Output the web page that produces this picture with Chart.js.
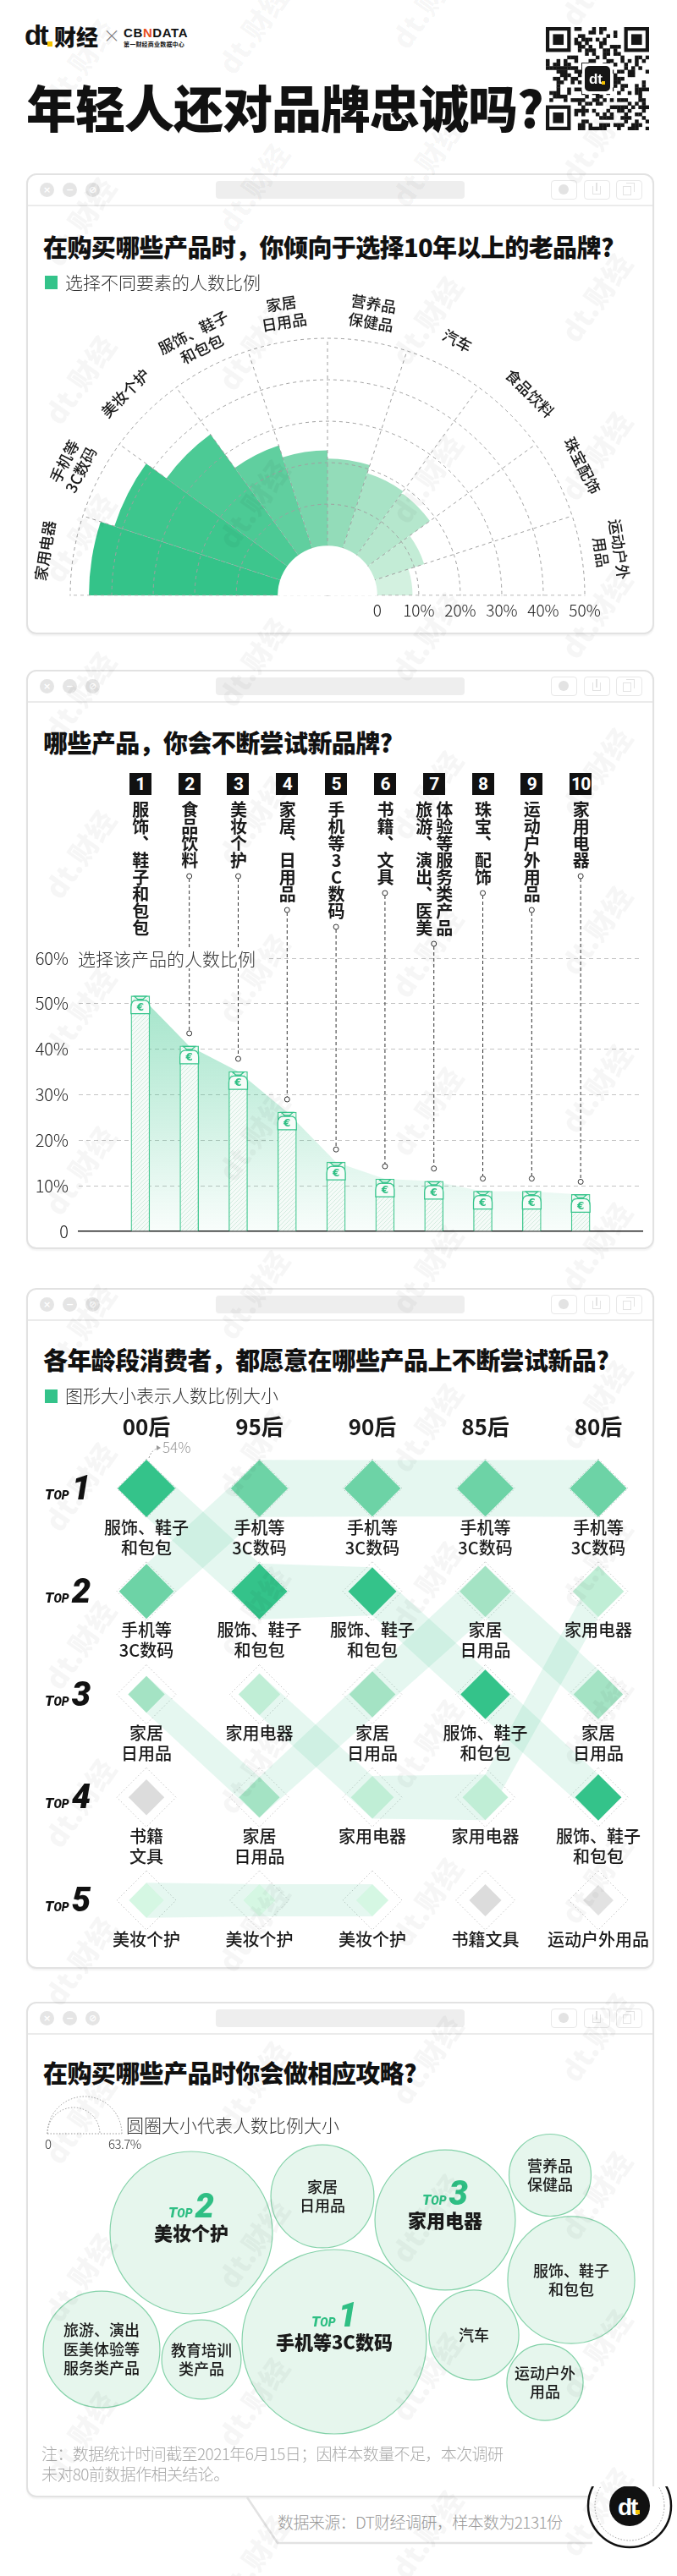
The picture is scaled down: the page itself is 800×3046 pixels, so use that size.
<!DOCTYPE html>
<html lang="zh-CN">
<head>
<meta charset="utf-8">
<title>年轻人还对品牌忠诚吗?</title>
<script src="https://cdn.jsdelivr.net/npm/chart.js@4.4.1/dist/chart.umd.min.js"></script>
<style>
*{box-sizing:border-box}
html,body{margin:0;padding:0}
body{width:800px;height:3046px;position:relative;background:#fff;overflow:hidden;font-family:"Noto Sans CJK SC","Noto Sans",sans-serif;color:#1a1a1a}
.abs{position:absolute;white-space:nowrap}
.card{position:absolute;left:31px;width:742px;border:2px solid #e2e2e2;border-radius:12px;background:#fff;box-shadow:0 2px 2px rgba(0,0,0,0.05)}
.card .sep{position:absolute;left:0;right:0;top:35px;border-top:2px solid #ebebeb}
.card .dot{position:absolute;top:9px;width:17px;height:17px;border-radius:50%;background:#e5e5e5;color:#fff;font:bold 11px/17px "DejaVu Sans",sans-serif;text-align:center}
.card .addr{position:absolute;left:222px;top:7px;width:294px;height:21px;border-radius:4px;background:#eeeeee}
.card .btn{position:absolute;top:6px;width:31px;height:23px;border:1.5px solid #e8e8e8;border-radius:4px}
.h2{position:absolute;left:51px;font-size:29px;font-weight:900;line-height:29px;letter-spacing:-0.6px;white-space:nowrap;color:#111}
.lgsq{position:absolute;left:53px;width:15px;height:16px;background:#34c38a}
.lgt{position:absolute;left:77px;font-size:21px;font-weight:300;line-height:21px;color:#333;white-space:nowrap}
.numbox{position:absolute;top:914px;width:26px;height:26px;background:#111;color:#fff;font:bold 21px/26px Roboto,"Liberation Sans",sans-serif;text-align:center;z-index:6;letter-spacing:-1px}
.vlab{position:absolute;top:947px;writing-mode:vertical-rl;text-orientation:upright;font-size:20px;font-weight:700;line-height:24px;white-space:pre;transform:translateX(-50%);z-index:6;color:#1a1a1a}
.wm{position:absolute;font:900 34px "Noto Sans CJK SC",sans-serif;color:rgba(0,0,0,0.035);transform:rotate(-55deg);transform-origin:center;white-space:nowrap;pointer-events:none;z-index:50}
</style>
</head>
<body>

<!-- header -->
<div class="abs" style="left:29px;top:22px;font:bold 33px/40px 'Liberation Sans',Arial,sans-serif;letter-spacing:-2.5px;color:#111">dt</div>
<div class="abs" style="left:56px;top:49px;width:6px;height:6px;background:#f6c400"></div>
<div class="abs" style="left:64px;top:30px;font-size:26px;font-weight:900;line-height:26px;color:#111">财经</div>
<div class="abs" style="left:122px;top:32px;font-size:20px;font-weight:300;line-height:20px;color:#777">×</div>
<div class="abs" style="left:146px;top:31px;font:bold 15px/16px 'Liberation Sans',Arial,sans-serif;letter-spacing:0.6px;color:#111">CB<span style="color:#e8501e">N</span>DATA</div>
<div class="abs" style="left:146px;top:48px;font-size:7px;font-weight:700;line-height:8px;color:#111;letter-spacing:0.2px">第一财经商业数据中心</div>
<div class="abs" style="left:31px;top:96px;font-size:59px;font-weight:900;line-height:59px;letter-spacing:-1px;color:#111">年轻人还对品牌忠诚吗?</div>
<canvas id="qr" width="122" height="122" style="position:absolute;left:645px;top:32px"></canvas>

<!-- card 1 -->
<div class="h2" style="top:277px;z-index:3">在购买哪些产品时，你倾向于选择10年以上的老品牌?</div>
<div class="lgsq" style="top:326px;z-index:3"></div>
<div class="lgt" style="top:323px;z-index:3">选择不同要素的人数比例</div>
<div style="position:absolute;left:7px;top:324px;width:760px;height:420px;overflow:hidden;z-index:2">
  <canvas id="polar" width="760" height="760"></canvas>
</div>

<!-- card 2 -->
<div class="h2" style="top:863px;z-index:3">哪些产品，你会不断尝试新品牌?</div>
<div style="position:absolute;left:0;top:1000px;width:800px;height:480px;z-index:2">
  <canvas id="trial" width="800" height="480"></canvas>
</div>
<div class="abs" style="left:88px;top:1121px;font-size:21px;font-weight:300;line-height:24px;color:#333;background:#fff;padding:0 12px 0 4px;z-index:4">选择该产品的人数比例</div>

<!-- card 3 -->
<div class="h2" style="top:1593px;z-index:3">各年龄段消费者，都愿意在哪些产品上不断尝试新品?</div>
<div class="lgsq" style="top:1643px;z-index:3"></div>
<div class="lgt" style="top:1639px;z-index:3">图形大小表示人数比例大小</div>
<div style="position:absolute;left:0;top:1650px;width:800px;height:680px;z-index:2">
  <canvas id="bump" width="800" height="680"></canvas>
</div>

<!-- card 4 -->
<div class="h2" style="top:2436px;z-index:3">在购买哪些产品时你会做相应攻略?</div>
<svg style="position:absolute;left:0;top:2470px;z-index:3" width="200" height="80">
  <path d="M56,53 A44,44 0 0 1 144,53" fill="none" stroke="#999" stroke-width="1" stroke-dasharray="1.5 2"/>
  <path d="M56,53 A31,31 0 0 1 118,53" fill="none" stroke="#999" stroke-width="1" stroke-dasharray="1.5 2"/>
  <line x1="56" y1="53" x2="144" y2="53" stroke="#999" stroke-width="1" stroke-dasharray="1.5 2"/>
</svg>
<div class="abs" style="left:53px;top:2527px;font-size:15px;font-weight:300;line-height:16px;color:#333;z-index:3">0</div>
<div class="abs" style="left:128px;top:2527px;font-size:15px;font-weight:300;line-height:16px;color:#333;letter-spacing:-0.5px;z-index:3">63.7%</div>
<div class="lgt" style="left:149px;top:2502px;z-index:3">圆圈大小代表人数比例大小</div>
<div style="position:absolute;left:0;top:2500px;width:800px;height:400px;z-index:2">
  <canvas id="guide" width="800" height="400"></canvas>
</div>
<div class="abs" style="left:49px;top:2889px;font-size:19px;font-weight:300;line-height:24px;color:#aaa;z-index:3;white-space:pre;letter-spacing:-0.6px">注：数据统计时间截至2021年6月15日；因样本数量不足，本次调研
未对80前数据作相关结论。</div>

<!-- footer -->
<svg style="position:absolute;left:0;top:2940px;z-index:1" width="800" height="106">
  <path d="M292,13 L328,67 L700,67" fill="none" stroke="#e2e2e2" stroke-width="2.5"/>
  <circle cx="744" cy="23" r="49" fill="#fff" stroke="#111" stroke-width="2.5"/>
  <circle cx="744" cy="23" r="41" fill="none" stroke="#999" stroke-width="1" stroke-dasharray="1.5 2"/>
  <circle cx="744" cy="23" r="24" fill="#111"/>
  <text x="730" y="34" font-family="Liberation Sans,Arial" font-weight="bold" font-size="28" fill="#fff" letter-spacing="-2">dt</text>
  <rect x="751" y="28" width="5" height="5" fill="#f6c400"/>
</svg>
<div class="abs" style="left:328px;top:2970px;font-size:19px;font-weight:300;line-height:24px;color:#999;z-index:3;letter-spacing:-0.6px">数据来源：DT财经调研，样本数为2131份</div>

<script>
// ======================= DATA =======================
// Chart 1: prefer 10+ year old brands (share of respondents, %)
const loyaltyCategories = ['家用电器', '手机等\n3C数码', '美妆个护', '服饰、鞋子\n和包包', '家居\n日用品', '营养品\n保健品', '汽车', '食品饮料', '珠宝配饰', '运动户外\n用品'];
const loyaltyValues = [45.5, 42, 36, 26, 23, 21, 19, 18.5, 12.5, 8.5];
const loyaltyTicks = [0, 10, 20, 30, 40, 50];

// Chart 2: keep trying new brands (share of respondents, %)
const trialCategories = ['服饰、鞋子和包包', '食品饮料', '美妆个护', '家居、日用品', '手机等3C数码', '书籍、文具', '体验等服务类产品\n旅游、演出、医美', '珠宝、配饰', '运动户外用品', '家用电器'];
const trialValues = [51.7, 40.7, 35.1, 26.2, 15.2, 11.5, 11.0, 8.8, 8.8, 8.1];
const trialTicks = [0, 10, 20, 30, 40, 50, 60];

// Chart 3: top-5 per generation (category key by rank, share %)
const generations = ['00后', '95后', '90后', '85后', '80后'];
const gen00Top = ['服饰', '3C', '家居', '书籍', '美妆'];
const gen00Pct = [54, 49, 22, 21, 20];
const gen95Top = ['3C', '服饰', '家用电器', '家居', '美妆'];
const gen95Pct = [53, 51, 28.5, 27, 17];
const gen90Top = ['3C', '服饰', '家居', '家用电器', '美妆'];
const gen90Pct = [52, 38, 35, 30, 17];
const gen85Top = ['3C', '家居', '服饰', '家用电器', '书籍'];
const gen85Pct = [52, 43, 40, 34, 17];
const gen80Top = ['3C', '家用电器', '家居', '服饰', '运动'];
const gen80Pct = [53, 43, 40, 35, 15];
const bumpKeys = ['服饰', '3C', '家居', '家用电器', '美妆', '书籍', '运动'];
const bumpNames = ['服饰、鞋子\n和包包', '手机等\n3C数码', '家居\n日用品', '家用电器', '美妆个护', '书籍\n文具', '运动户外用品'];

// Chart 4: do homework before buying (share %, bubble area)
const guideCategories = ['手机等3C数码', '美妆个护', '家用电器', '家居\n日用品', '营养品\n保健品', '服饰、鞋子\n和包包', '汽车', '运动户外\n用品', '旅游、演出\n医美体验等\n服务类产品', '教育培训\n类产品'];
const guideValues = [63.7, 49.4, 36.9, 19.9, 12.6, 30.2, 15.1, 10.9, 25.5, 11.8];
const guideRanks = [1, 2, 3, 0, 0, 0, 0, 0, 0, 0];
// packed-bubble layout (centre positions on the bubble canvas grid)
const guideLayoutX = [395, 226, 526, 381, 650, 675, 560, 644, 120, 238];
const guideLayoutY = [269, 140, 125, 97, 72, 196, 261, 317, 278, 290];

// ======================= STYLE =======================
const FONT = '"Noto Sans CJK SC","Noto Sans",sans-serif';
Chart.defaults.font.family = FONT;
const loyaltyColors = ['#34c389', '#3dc68d', '#4cca95', '#60cf9f', '#79d5ac', '#93dcb9', '#a8e3c6', '#b5e7cd', '#c3ecd6', '#d3f1e0'];
const bumpColors = ['#34c38a', '#6dd3a6', '#a4e3c4', '#c0eed6', '#d5f7e3', '#dcdcdc', '#e2e2e2'];

// ======================= CARDS / DECOR =======================
function makeCard(top, bottom) {
  const d = document.createElement('div');
  d.className = 'card';
  d.style.top = top + 'px';
  d.style.height = (bottom - top) + 'px';
  d.innerHTML = '<div class="dot" style="left:14px">×</div><div class="dot" style="left:41px">−</div><div class="dot" style="left:68px">⊘</div>' +
    '<div class="addr"></div>' +
    '<div class="btn" style="left:618px"><div style="position:absolute;left:8px;top:4px;width:12px;height:12px;border-radius:50%;background:#e3e3e3"></div></div>' +
    '<div class="btn" style="left:657px"><div style="position:absolute;left:9px;top:6px;width:10px;height:10px;border:1.5px solid #e3e3e3;border-top:none"></div><div style="position:absolute;left:13px;top:2px;width:1.5px;height:10px;background:#e3e3e3"></div></div>' +
    '<div class="btn" style="left:695px"><div style="position:absolute;left:7px;top:6px;width:10px;height:11px;border:1.5px solid #e3e3e3"></div><div style="position:absolute;left:11px;top:2px;width:10px;height:11px;border:1.5px solid #e3e3e3;border-left:none;border-bottom:none"></div></div>' +
    '<div class="sep"></div>';
  document.body.appendChild(d);
}
makeCard(205, 750);
makeCard(792, 1477);
makeCard(1523, 2328);
makeCard(2367, 2953);

// faint watermarks
(function () {
  const cols = [95, 300, 505, 705], offs = [70, 30, 0, 160];
  cols.forEach((x, k) => {
    for (let y = offs[k] - 187; y < 3046; y += 187) {
      const w = document.createElement('div');
      w.className = 'wm'; w.textContent = 'dt.财经';
      w.style.left = (x - 60) + 'px'; w.style.top = (y - 20) + 'px';
      document.body.appendChild(w);
    }
  });
})();

// QR-like badge (decorative)
(function () {
  const c = document.getElementById('qr').getContext('2d');
  const N = 29, m = 122 / N;
  c.fillStyle = '#fff'; c.fillRect(0, 0, 122, 122);
  c.fillStyle = '#161616';
  const inF = (i, j) => (i < 8 && j < 8) || (i < 8 && j >= N - 8) || (i >= N - 8 && j < 8);
  for (let i = 0; i < N; i++) for (let j = 0; j < N; j++) {
    if (inF(i, j)) continue;
    const h = (((i + 3) * 73856093) ^ ((j + 7) * 19349663) ^ ((i * j + 11) * 83492791)) >>> 0;
    if (h % 7 < 3) c.fillRect(j * m, i * m, m + 0.3, m + 0.3);
  }
  const finder = (r0, c0) => {
    c.fillStyle = '#161616'; c.fillRect(c0 * m, r0 * m, 7 * m, 7 * m);
    c.fillStyle = '#fff'; c.fillRect((c0 + 1) * m, (r0 + 1) * m, 5 * m, 5 * m);
    c.fillStyle = '#161616'; c.fillRect((c0 + 2) * m, (r0 + 2) * m, 3 * m, 3 * m);
  };
  finder(0, 0); finder(0, N - 7); finder(N - 7, 0);
  c.fillStyle = '#fff'; c.fillRect(43, 43, 36, 36);
  c.fillStyle = '#161616';
  c.beginPath(); c.roundRect(46, 46, 30, 30, 5); c.fill();
  c.fillStyle = '#fff'; c.font = 'bold 17px "Liberation Sans"'; c.textAlign = 'center'; c.textBaseline = 'middle';
  c.fillText('dt', 59, 62);
  c.fillStyle = '#f6c400'; c.fillRect(66, 64, 4, 4);
})();

// ======================= CHART 1: half polar =======================
const polarPlugin = {
  id: 'polarDeco',
  beforeDraw(chart) {
    const s = chart.scales.r, c = chart.ctx;
    c.save();
    c.beginPath(); c.rect(0, 0, chart.width, s.yCenter + 0.5); c.clip();
  },
  afterDraw(chart) {
    const s = chart.scales.r, c = chart.ctx;
    c.fillStyle = '#fff';
    c.beginPath(); c.arc(s.xCenter, s.yCenter, s.getDistanceFromCenterForValue(0), 0, Math.PI * 2); c.fill();
    c.restore();
    const step = Math.PI * 2 / chart.data.labels.length;
    const rr = s.getDistanceFromCenterForValue(50) + 34;
    c.fillStyle = '#1a1a1a'; c.textAlign = 'center'; c.textBaseline = 'middle';
    c.font = '500 18px ' + FONT;
    loyaltyCategories.forEach((lab, i) => {
      const a = s.getIndexAngle(i) - Math.PI / 2 + step / 2;
      const x = s.xCenter + rr * Math.cos(a), y = s.yCenter + rr * Math.sin(a);
      const lines = lab.split('\n');
      c.save(); c.translate(x, y); c.rotate(a + Math.PI / 2);
      lines.forEach((ln, k) => c.fillText(ln, 0, (k - (lines.length - 1) / 2) * 22));
      c.restore();
    });
    c.font = '300 19px ' + FONT; c.fillStyle = '#222';
    loyaltyTicks.forEach(v => {
      c.fillText(v === 0 ? '0' : v + '%', s.xCenter + s.getDistanceFromCenterForValue(v), s.yCenter + 18);
    });
  }
};
new Chart(document.getElementById('polar'), {
  type: 'polarArea',
  data: {
    labels: loyaltyCategories.concat(loyaltyCategories.map(() => '')),
    datasets: [{
      data: loyaltyValues.concat(loyaltyValues.map(() => 0)),
      backgroundColor: loyaltyColors.concat(loyaltyColors.map(() => 'rgba(0,0,0,0)')),
      borderWidth: 0
    }]
  },
  options: {
    responsive: false, animation: false, devicePixelRatio: 1, events: [],
    layout: { padding: 76, autoPadding: false },
    plugins: { legend: { display: false }, tooltip: { enabled: false } },
    scales: {
      r: {
        min: -12, max: 50, startAngle: -90,
        ticks: { display: false, stepSize: 10 },
        grid: { z: 1, circular: true, lineWidth: 1, color: (ctx) => (ctx.tick && ctx.tick.value > 0) ? '#a0a0a0' : 'rgba(0,0,0,0)' },
        border: { dash: [4, 4] },
        angleLines: { display: true, color: '#a0a0a0', lineWidth: 1, borderDash: [4, 4] },
        pointLabels: { display: false }
      }
    }
  },
  plugins: [polarPlugin]
});

// ======================= CHART 2: bars + area =======================
function hatchPattern() {
  const p = document.createElement('canvas'); p.width = p.height = 5;
  const g = p.getContext('2d');
  g.fillStyle = '#f5fbf8'; g.fillRect(0, 0, 5, 5);
  g.strokeStyle = '#d3ebdf'; g.lineWidth = 1;
  g.beginPath(); g.moveTo(-1, 6); g.lineTo(6, -1); g.stroke();
  return g.createPattern(p, 'repeat');
}
// money-bag cap drawn on top of each bar
function drawBag(c, x, yTop, w) {
  const hw = w / 2, top = yTop + 5, bot = yTop + 21;
  c.save();
  c.lineWidth = 1.3; c.strokeStyle = '#35c48b'; c.fillStyle = '#f7fcf9';
  // dome body
  c.beginPath();
  c.moveTo(x - hw, bot);
  c.lineTo(x - hw, top + 8);
  c.quadraticCurveTo(x - hw, top, x - 4, top);
  c.lineTo(x + 4, top);
  c.quadraticCurveTo(x + hw, top, x + hw, top + 8);
  c.lineTo(x + hw, bot);
  c.closePath(); c.fill(); c.stroke();
  // knot / bow
  c.fillStyle = '#dff4e9';
  c.beginPath(); c.moveTo(x - 7, yTop + 0.5); c.lineTo(x + 7, yTop + 0.5); c.lineTo(x + 3, yTop + 4); c.lineTo(x - 3, yTop + 4); c.closePath(); c.fill(); c.stroke();
  c.beginPath(); c.moveTo(x - 4, yTop + 5); c.lineTo(x + 4, yTop + 5); c.stroke();
  // currency sign
  c.fillStyle = '#2fbf84'; c.font = 'bold 12px "DejaVu Sans"'; c.textAlign = 'center'; c.textBaseline = 'middle';
  c.fillText('€', x, top + 9);
  c.restore();
}
const trialPlugin = {
  id: 'trialDeco',
  afterDatasetsDraw(chart) {
    const c = chart.ctx;
    const barMeta = chart.getDatasetMeta(1);
    const canvasTop = chart.canvas.getBoundingClientRect().top;
    const labs = document.querySelectorAll('.vlab');
    barMeta.data.forEach((bar, i) => {
      drawBag(c, bar.x, bar.y, bar.width);
      if (i === 0 || !labs[i]) return;
      const y1 = labs[i].getBoundingClientRect().bottom - canvasTop + 9;
      const y2 = bar.y - 15;
      c.save();
      c.strokeStyle = '#333'; c.lineWidth = 1; c.setLineDash([4, 3]);
      c.beginPath(); c.moveTo(bar.x, y1 + 3); c.lineTo(bar.x, y2 - 3); c.stroke();
      c.setLineDash([]); c.fillStyle = '#fff';
      [y1, y2].forEach(yy => { c.beginPath(); c.arc(bar.x, yy, 3, 0, Math.PI * 2); c.fill(); c.stroke(); });
      c.restore();
    });
  }
};
const trialPoints = trialValues.map((v, i) => ({ x: i, y: v }));
const trialChart = new Chart(document.getElementById('trial'), {
  data: {
    datasets: [{
      type: 'line', order: 2,
      data: trialPoints,
      fill: 'origin', tension: 0, borderWidth: 0, pointRadius: 0,
      backgroundColor: (ctx) => {
        const a = ctx.chart.chartArea; if (!a) return 'rgba(52,196,137,0.2)';
        const y = ctx.chart.scales.y;
        const g = ctx.chart.ctx.createLinearGradient(0, y.getPixelForValue(52), 0, y.getPixelForValue(0));
        g.addColorStop(0, 'rgba(52,196,137,0.45)');
        g.addColorStop(1, 'rgba(52,196,137,0.03)');
        return g;
      }
    }, {
      type: 'bar', order: 1,
      data: trialPoints,
      barThickness: 22,
      backgroundColor: hatchPattern(),
      borderColor: '#45c891', borderWidth: 1.3
    }]
  },
  options: {
    responsive: false, animation: false, devicePixelRatio: 1, events: [],
    layout: { padding: { left: 0, right: 41, top: 133, bottom: 21 }, autoPadding: false },
    plugins: { legend: { display: false }, tooltip: { enabled: false } },
    scales: {
      x: {
        type: 'linear', min: -0.3, max: 9.3,
        ticks: { display: false }, grid: { display: false, drawTicks: false },
        border: { display: true, color: '#222', width: 1.5 },
        afterFit(s) { s.height = 0; }
      },
      y: {
        min: 0, max: 60,
        afterBuildTicks(s) { s.ticks = trialTicks.map(v => ({ value: v })); },
        ticks: { callback: v => v === 0 ? '0' : v + '%', color: '#222', padding: 12, font: { size: 20, weight: 300 } },
        grid: { drawTicks: false, lineWidth: 1, color: (ctx) => ctx.tick && ctx.tick.value === 0 ? 'rgba(0,0,0,0)' : '#c4c4c4' },
        border: { display: false, dash: [5, 4] },
        afterFit(s) { s.width = 93; }
      }
    }
  },
  plugins: [trialPlugin]
});
trialCategories.forEach((lab, i) => {
  const px = trialChart.scales.x.getPixelForValue(i);
  const b = document.createElement('div');
  b.className = 'numbox'; b.style.left = (px - 13) + 'px'; b.textContent = i + 1;
  document.body.appendChild(b);
  const v = document.createElement('div');
  v.className = 'vlab'; v.style.left = px + 'px'; v.textContent = lab;
  document.body.appendChild(v);
});
trialChart.draw();

// ======================= CHART 3: ranking bump chart =======================
const genTops = [gen00Top, gen95Top, gen90Top, gen85Top, gen80Top];
const genPcts = [gen00Pct, gen95Pct, gen90Pct, gen85Pct, gen80Pct];
const PMAX = Math.max(...genPcts.flat());
const DMAX = 34, FRAME = 35;
function drawTop(c, x, baseY, n, color, center) {
  c.save();
  c.fillStyle = color; c.textBaseline = 'alphabetic'; c.textAlign = 'left';
  const fT = 'italic 900 17px Roboto, sans-serif', fOP = 'italic 900 14px Roboto, sans-serif', fN = 'italic 900 40px Roboto, sans-serif';
  c.font = fT; const wT = c.measureText('T').width;
  c.font = fOP; const wOP = c.measureText('OP').width;
  c.font = fN; const wN = c.measureText(String(n)).width;
  let x0 = center ? x - (wT + wOP + 3 + wN) / 2 : x;
  c.font = fT; c.fillText('T', x0, baseY);
  c.font = fOP; c.fillText('OP', x0 + wT, baseY);
  c.font = fN; c.fillText(String(n), x0 + wT + wOP + 3, baseY);
  c.restore();
}
const bumpDatasets = bumpKeys.map((key, k) => {
  const pts = [];
  genTops.forEach((tops, gi) => {
    const r = tops.indexOf(key);
    if (r >= 0) pts.push({ x: gi, y: r + 1, v: genPcts[gi][r] });
  });
  return {
    label: key, data: pts, showLine: false,
    pointStyle: 'rectRot', borderWidth: 0,
    backgroundColor: bumpColors[k], pointBackgroundColor: bumpColors[k],
    pointRadius: (ctx) => ctx.raw ? DMAX * Math.sqrt(ctx.raw.v / PMAX) : 0
  };
});
const bumpPlugin = {
  id: 'bumpDeco',
  beforeDatasetsDraw(chart) {
    const c = chart.ctx, x = chart.scales.x, y = chart.scales.y;
    c.save(); c.strokeStyle = '#c6c6c6'; c.lineWidth = 1; c.setLineDash([1.5, 2.5]);
    generations.forEach((g, gi) => {
      for (let r = 1; r <= 5; r++) {
        const px = x.getPixelForValue(gi), py = y.getPixelForValue(r);
        c.beginPath(); c.moveTo(px, py - FRAME); c.lineTo(px + FRAME, py); c.lineTo(px, py + FRAME); c.lineTo(px - FRAME, py); c.closePath(); c.stroke();
      }
    });
    c.restore();
    c.save(); c.fillStyle = 'rgba(52,196,137,0.13)';
    chart.data.datasets.forEach((ds, di) => {
      const meta = chart.getDatasetMeta(di);
      let run = [];
      const flush = () => {
        if (run.length > 1) {
          c.beginPath();
          run.forEach((p, k) => k ? c.lineTo(p.x, p.y - p.r) : c.moveTo(p.x, p.y - p.r));
          for (let k = run.length - 1; k >= 0; k--) c.lineTo(run[k].x, run[k].y + run[k].r);
          c.closePath(); c.fill();
        }
        run = [];
      };
      ds.data.forEach((d, k) => {
        const el = meta.data[k];
        if (run.length && ds.data[k - 1].x !== d.x - 1) flush();
        run.push({ x: el.x, y: el.y, r: el.options.radius });
      });
      flush();
    });
    c.restore();
  },
  afterDatasetsDraw(chart) {
    const c = chart.ctx, x = chart.scales.x, y = chart.scales.y;
    c.save();
    c.textAlign = 'center'; c.textBaseline = 'middle';
    c.font = 'bold 26px ' + FONT; c.fillStyle = '#1a1a1a';
    generations.forEach((g, gi) => c.fillText(g, x.getPixelForValue(gi), y.getPixelForValue(1) - 73));
    c.font = '500 20px ' + FONT;
    genTops.forEach((tops, gi) => {
      tops.forEach((key, r) => {
        let name = bumpNames[bumpKeys.indexOf(key)];
        if (r === 4) name = name.replace('\n', '');
        const lines = name.split('\n');
        const px = x.getPixelForValue(gi), py = y.getPixelForValue(r + 1);
        lines.forEach((ln, k) => c.fillText(ln, px, py + 46 + k * 24));
      });
    });
    c.restore();
    for (let r = 1; r <= 5; r++) drawTop(c, 53, y.getPixelForValue(r) + 13, r, '#111', false);
    const px = x.getPixelForValue(0), py = y.getPixelForValue(1);
    const rTop = DMAX * Math.sqrt(genPcts[0][0] / PMAX);
    c.save();
    c.strokeStyle = '#999'; c.lineWidth = 1; c.setLineDash([2, 2]);
    c.beginPath(); c.moveTo(px + 3, py - rTop - 2); c.quadraticCurveTo(px + 6, py - rTop - 12, px + 15, py - rTop - 14); c.stroke();
    c.setLineDash([]); c.fillStyle = '#999';
    c.beginPath(); c.moveTo(px + 17, py - rTop - 14); c.lineTo(px + 12, py - rTop - 17); c.lineTo(px + 12, py - rTop - 11); c.closePath(); c.fill();
    c.font = '300 17px ' + FONT; c.textAlign = 'left'; c.textBaseline = 'middle';
    c.fillText(genPcts[0][0] + '%', px + 19, py - rTop - 14);
    c.restore();
  }
};
new Chart(document.getElementById('bump'), {
  type: 'scatter',
  data: { datasets: bumpDatasets },
  options: {
    responsive: false, animation: false, devicePixelRatio: 1, events: [],
    layout: { padding: { left: 106.25, right: 26.25, top: 49.1, bottom: 22.1 }, autoPadding: false },
    plugins: { legend: { display: false }, tooltip: { enabled: false } },
    scales: {
      x: { type: 'linear', min: -0.5, max: 4.5, display: false },
      y: { type: 'linear', min: 0.5, max: 5.5, reverse: true, display: false }
    }
  },
  plugins: [bumpPlugin]
});

// ======================= CHART 4: bubbles =======================
const GMAX = Math.max(...guideValues), RMAX = 109;
const guidePlugin = {
  id: 'guideDeco',
  afterDatasetsDraw(chart) {
    const c = chart.ctx, meta = chart.getDatasetMeta(0);
    meta.data.forEach((el, i) => {
      c.save(); c.textAlign = 'center'; c.textBaseline = 'middle'; c.fillStyle = '#1a1a1a';
      if (guideRanks[i]) {
        drawTop(c, el.x, el.y - 18, guideRanks[i], '#2fbf84', true);
        c.fillStyle = '#1a1a1a'; c.font = '900 22px ' + FONT;
        c.fillText(guideCategories[i], el.x, el.y + 1);
      } else {
        const lines = guideCategories[i].split('\n');
        c.font = '500 18px ' + FONT;
        lines.forEach((ln, k) => c.fillText(ln, el.x, el.y + (k - (lines.length - 1) / 2) * 22.5));
      }
      c.restore();
    });
  }
};
new Chart(document.getElementById('guide'), {
  type: 'bubble',
  data: {
    datasets: [{
      data: guideValues.map((v, i) => ({ x: guideLayoutX[i], y: guideLayoutY[i], r: RMAX * Math.sqrt(v / GMAX) })),
      backgroundColor: '#e6f6ed', borderColor: '#84d2a9', borderWidth: 1.2,
      clip: false
    }]
  },
  options: {
    responsive: false, animation: false, devicePixelRatio: 1, events: [],
    layout: { padding: 0, autoPadding: false },
    plugins: { legend: { display: false }, tooltip: { enabled: false } },
    scales: {
      x: { type: 'linear', min: 0, max: 800, display: false },
      y: { type: 'linear', min: 0, max: 400, reverse: true, display: false }
    }
  },
  plugins: [guidePlugin]
});
</script>
</body>
</html>
